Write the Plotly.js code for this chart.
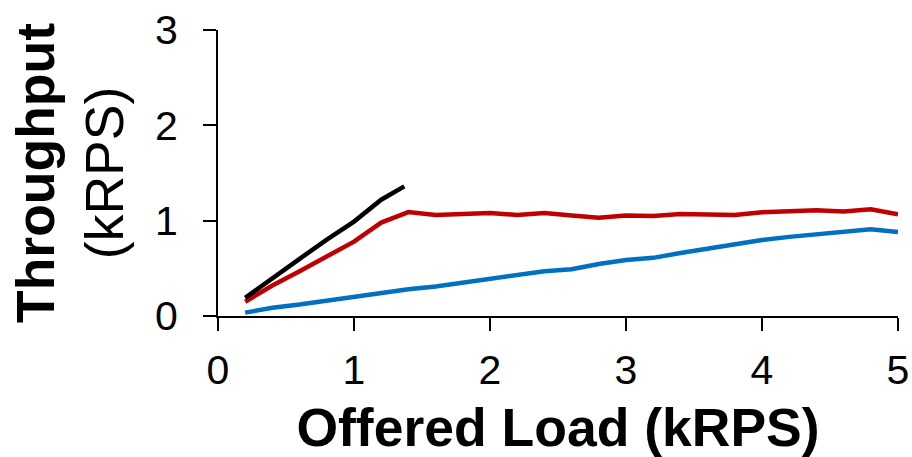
<!DOCTYPE html>
<html>
<head>
<meta charset="utf-8">
<script src="https://cdn.plot.ly/plotly-3.0.1.min.js"></script>
<style>html,body{margin:0;padding:0;background:#fff;}#chart{width:912px;height:457px;}</style>
</head>
<body>
<div id="chart"></div>
<script>
// Offered load (kRPS)
var loadBlack = [0.2, 0.4, 0.6, 0.8, 1.0, 1.2, 1.37];
var tputBlack = [0.19, 0.40, 0.60, 0.80, 0.99, 1.22, 1.36];

var loadRed = [0.2, 0.4, 0.6, 0.8, 1.0, 1.2, 1.4, 1.6, 1.8, 2.0, 2.2, 2.4, 2.6, 2.8, 3.0, 3.2, 3.4, 3.6, 3.8, 4.0, 4.2, 4.4, 4.6, 4.8, 5.0];
var tputRed = [0.15, 0.32, 0.47, 0.62, 0.78, 0.98, 1.09, 1.06, 1.066, 1.08, 1.06, 1.08, 1.055, 1.03, 1.055, 1.048, 1.07, 1.059, 1.059, 1.087, 1.093, 1.108, 1.097, 1.12, 1.066];

var loadBlue = [0.2, 0.4, 0.6, 0.8, 1.0, 1.2, 1.4, 1.6, 1.8, 2.0, 2.2, 2.4, 2.6, 2.8, 3.0, 3.2, 3.4, 3.6, 3.8, 4.0, 4.2, 4.4, 4.6, 4.8, 5.0];
var tputBlue = [0.035, 0.087, 0.12, 0.16, 0.20, 0.25, 0.28, 0.31, 0.35, 0.40, 0.44, 0.47, 0.49, 0.545, 0.587, 0.61, 0.66, 0.705, 0.75, 0.797, 0.83, 0.86, 0.88, 0.91, 0.88];

var xTicks = [0, 1, 2, 3, 4, 5];
var yTicks = [0, 1, 2, 3];

var traces = [
  {x: loadBlue, y: tputBlue, mode: 'lines', line: {color: '#0070C0', width: 4.5}, showlegend: false},
  {x: loadRed, y: tputRed, mode: 'lines', line: {color: '#C00000', width: 4.5}, showlegend: false},
  {x: loadBlack, y: tputBlack, mode: 'lines', line: {color: '#000000', width: 4.5}, showlegend: false}
];

var tickFont = {family: 'Liberation Sans, Arial, sans-serif', size: 41, color: '#000'};
var titleFont = {family: 'Liberation Sans, Arial, sans-serif', size: 53.5, color: '#000'};

var layout = {
  width: 912, height: 457,
  margin: {l: 218, r: 14, t: 30, b: 141},
  paper_bgcolor: '#fff', plot_bgcolor: '#fff',
  showlegend: false,
  xaxis: {
    range: [0, 5], tickvals: xTicks, ticktext: xTicks.map(String),
    showgrid: false, zeroline: false,
    showline: true, linecolor: '#000', linewidth: 2,
    ticks: 'outside', ticklen: 13, tickwidth: 2, tickcolor: '#000',
    tickfont: tickFont, ticklabelstandoff: 4,
    title: {text: '<b>Offered Load (kRPS)</b>', font: titleFont, standoff: 22},
    automargin: false
  },
  yaxis: {
    range: [0, 3], tickvals: yTicks, ticktext: yTicks.map(String),
    showgrid: false, zeroline: false,
    showline: true, linecolor: '#000', linewidth: 2,
    ticks: 'outside', ticklen: 13, tickwidth: 2, tickcolor: '#000',
    tickfont: tickFont, ticklabelstandoff: 17,
    title: {text: '<b>Throughput</b><br>(kRPS)', font: titleFont, standoff: 14},
    automargin: false
  }
};

Plotly.newPlot('chart', traces, layout, {displayModeBar: false, staticPlot: true});
</script>
</body>
</html>
